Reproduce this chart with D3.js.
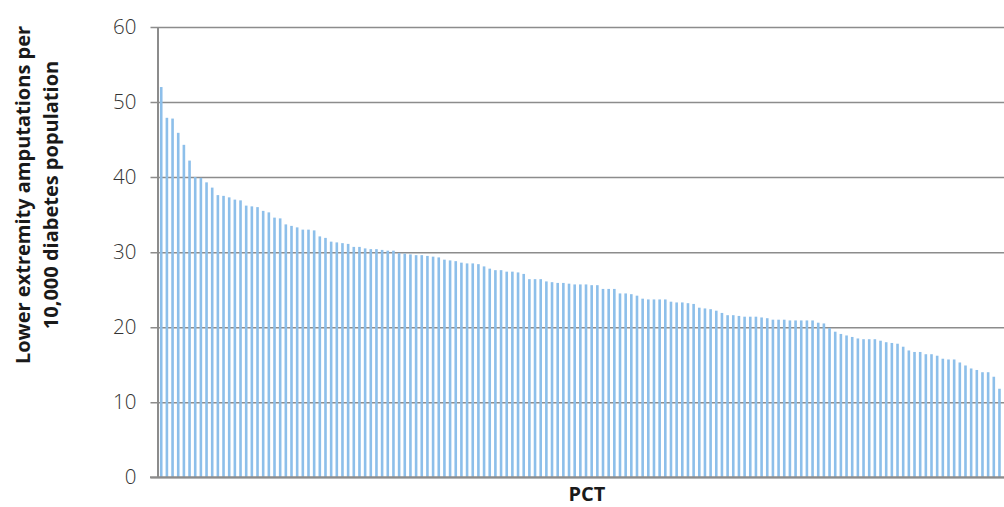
<!DOCTYPE html>
<html>
<head>
<meta charset="utf-8">
<script src="https://cdn.jsdelivr.net/npm/d3@7"></script>
<style>
  html, body { margin: 0; padding: 0; background: #fff; }
  svg { display: block; }
</style>
</head>
<body>
<svg id="chart" width="1004" height="507"></svg>
<script>
// Lower extremity amputation rates per PCT, sorted from highest to lowest
const rates = [
  52.0, 47.9, 47.8, 45.9, 44.3, 42.2, 40.0, 39.9, 39.3, 38.6,
  37.6, 37.5, 37.3, 37.0, 36.9, 36.2, 36.1, 36.0, 35.5, 35.3,
  34.6, 34.5, 33.7, 33.5, 33.3, 33.0, 33.0, 32.9, 32.1, 31.9,
  31.4, 31.3, 31.2, 31.1, 30.7, 30.7, 30.5, 30.4, 30.4, 30.3,
  30.2, 30.2, 29.9, 29.8, 29.7, 29.6, 29.6, 29.5, 29.4, 29.3,
  29.0, 28.9, 28.8, 28.6, 28.5, 28.5, 28.4, 28.1, 27.8, 27.6,
  27.6, 27.4, 27.4, 27.3, 27.1, 26.4, 26.4, 26.4, 26.1, 26.0,
  25.9, 25.9, 25.8, 25.7, 25.7, 25.7, 25.6, 25.6, 25.1, 25.1,
  25.1, 24.5, 24.5, 24.4, 24.2, 23.8, 23.7, 23.7, 23.7, 23.7,
  23.4, 23.3, 23.3, 23.2, 23.1, 22.6, 22.5, 22.4, 22.2, 21.9,
  21.6, 21.6, 21.5, 21.4, 21.4, 21.4, 21.3, 21.2, 21.0, 21.0,
  21.0, 20.9, 20.9, 20.9, 20.9, 20.9, 20.6, 20.5, 19.9, 19.4,
  19.1, 18.9, 18.7, 18.5, 18.4, 18.4, 18.4, 18.2, 18.0, 17.9,
  17.8, 17.4, 16.9, 16.7, 16.7, 16.4, 16.4, 16.2, 15.8, 15.7,
  15.7, 15.3, 14.9, 14.5, 14.3, 14.0, 14.0, 13.4, 11.8
];
const pcts = rates.map((_, i) => "PCT " + (i + 1));
const yTicks = [0, 10, 20, 30, 40, 50, 60];
const yTitleLines = ["Lower extremity amputations per", "10,000 diabetes population"];
const xTitle = "PCT";

const svg = d3.select("#chart");
const font = "'Open Sans', 'Noto Sans', 'DejaVu Sans', sans-serif";

const plot = { left: 157.5, right: 1004, top: 27, bottom: 477.3 };

const x = d3.scaleBand()
  .domain(pcts)
  .range([158.4, 1002.3])
  .paddingInner(0.54)
  .paddingOuter(0.27);

const y = d3.scaleLinear()
  .domain([0, 60])
  .range([plot.bottom, plot.top]);

// horizontal gridlines, extending left of the axis as tick marks
const grid = svg.append("g")
  .attr("transform", `translate(${plot.left},0)`)
  .call(d3.axisLeft(y).tickValues(yTicks).tickSize(-(plot.right - plot.left)).tickFormat(""));
grid.select(".domain").remove();
grid.selectAll(".tick line")
  .attr("stroke", "#8c8c8c")
  .attr("stroke-width", 1.5)
  .attr("x1", -7);

// bars
svg.append("g")
  .selectAll("rect")
  .data(rates)
  .join("rect")
  .attr("x", (d, i) => x(pcts[i]))
  .attr("width", x.bandwidth())
  .attr("y", d => y(d))
  .attr("height", d => y(0) - y(d))
  .attr("fill", "#8dbfea");

// y axis line and labels
const yAxis = svg.append("g")
  .attr("transform", `translate(${plot.left},0)`)
  .call(d3.axisLeft(y).tickValues(yTicks).tickSize(0).tickPadding(21));
yAxis.select(".domain")
  .attr("stroke", "#8c8c8c")
  .attr("stroke-width", 2);
yAxis.selectAll(".tick text")
  .attr("font-family", font)
  .attr("font-size", 20.5)
  .attr("font-weight", 300)
  .attr("fill", "#333");

// x axis baseline
svg.append("line")
  .attr("x1", 150).attr("x2", plot.right)
  .attr("y1", y(0)).attr("y2", y(0))
  .attr("stroke", "#8c8c8c")
  .attr("stroke-width", 2);

// axis titles
svg.append("text")
  .attr("x", 587)
  .attr("y", 501)
  .attr("text-anchor", "middle")
  .attr("font-family", font)
  .attr("font-size", 20)
  .attr("font-weight", 700)
  .attr("fill", "#1a1a1a")
  .text(xTitle);

const yt = svg.append("text")
  .attr("transform", "translate(0,195) rotate(-90)")
  .attr("text-anchor", "middle")
  .attr("font-family", font)
  .attr("font-size", 20)
  .attr("font-weight", 700)
  .attr("fill", "#1a1a1a");
yTitleLines.forEach((line, i) => {
  yt.append("tspan")
    .attr("x", 0)
    .attr("y", 30 + i * 28)
    .text(line);
});
</script>
</body>
</html>
